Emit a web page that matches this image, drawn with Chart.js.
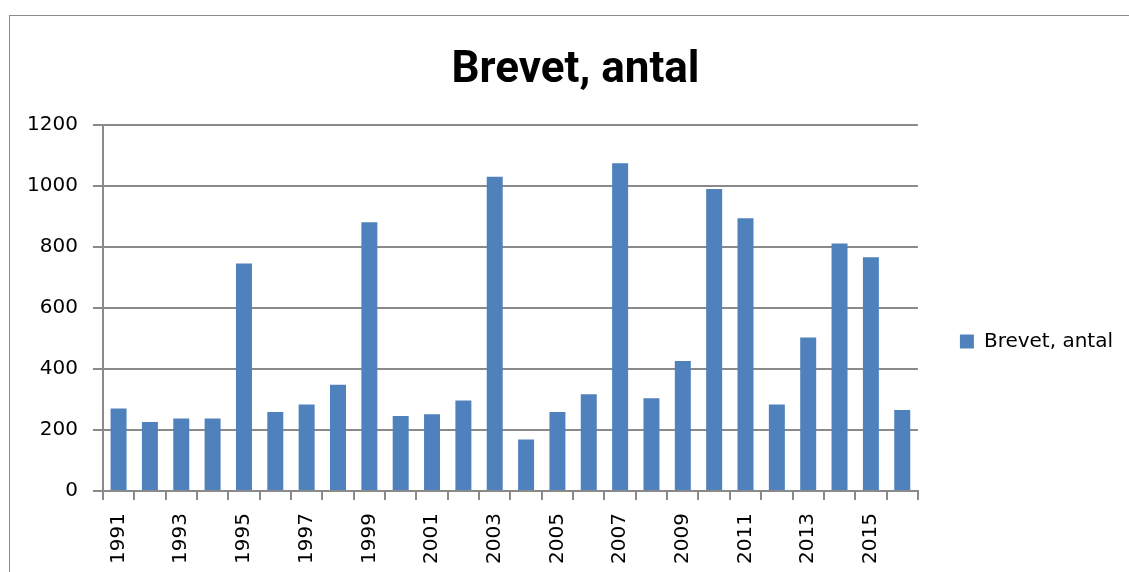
<!DOCTYPE html>
<html>
<head>
<meta charset="utf-8">
<script src="https://cdn.jsdelivr.net/npm/chart.js@4/dist/chart.umd.min.js"></script>
<style>
  html, body { margin: 0; padding: 0; background: #fff; }
  #wrap { position: relative; width: 1129px; height: 572px; }
  #frame { position: absolute; left: 9px; top: 15px; right: -10px; bottom: -10px; border: 1px solid #8c8c8c; }
  canvas { position: absolute; left: 0; top: 0; }
</style>
</head>
<body>
<div id="wrap">
  <div id="frame"></div>
  <canvas id="chart"></canvas>
</div>
<script>
// ===== Data =====
const years = ['1991', '1992', '1993', '1994', '1995', '1996', '1997', '1998', '1999', '2000',
  '2001', '2002', '2003', '2004', '2005', '2006', '2007', '2008', '2009', '2010',
  '2011', '2012', '2013', '2014', '2015', '2016'];
const brevet = [271, 226, 238, 238, 746, 259, 284, 348, 881, 246,
  252, 297, 1030, 169, 259, 317, 1074, 304, 426, 990,
  894, 284, 503, 811, 766, 266];
const yTicks = [0, 200, 400, 600, 800, 1000, 1200];

const gridGray = '#8a8a8a';
const tickFont = { family: 'DejaVu Sans', size: 20 };

// nudge legend and title to where Excel puts them
const boxNudge = {
  id: 'boxNudge',
  afterLayout(chart) {
    const lg = chart.legend;
    if (lg) {
      lg.left += 32; lg.right += 32;
      lg.top += 53; lg.bottom += 53;
    }
    const tb = chart.titleBlock;
    if (tb) { tb.left += 24; tb.right += 24; }
  }
};

new Chart(document.getElementById('chart'), {
  type: 'bar',
  data: {
    labels: years,
    datasets: [{
      label: 'Brevet, antal',
      data: brevet,
      backgroundColor: '#4F81BD',
      barPercentage: 0.51,
      categoryPercentage: 1.0,
    }]
  },
  plugins: [boxNudge],
  options: {
    responsive: true,
    maintainAspectRatio: false,
    animation: false,
    layout: { padding: { left: 12, right: 38, top: 0, bottom: -5 } },
    plugins: {
      title: {
        display: true,
        text: 'Brevet, antal',
        color: '#000',
        font: { family: 'Roboto', size: 44, weight: 'bold' },
        padding: { top: 45, bottom: 27 },
      },
      legend: {
        position: 'right',
        labels: {
          boxWidth: 14,
          boxHeight: 14,
          color: '#000',
          font: { family: 'DejaVu Sans', size: 20 },
          padding: 10,
        }
      },
      tooltip: { enabled: false }
    },
    scales: {
      x: {
        grid: { offset: true, drawOnChartArea: false, drawTicks: true, tickLength: 9, color: gridGray, lineWidth: 2 },
        border: { color: gridGray, width: 2 },
        ticks: {
          autoSkip: false,
          minRotation: 90,
          maxRotation: 90,
          padding: 13,
          color: '#000',
          font: tickFont,
          callback: (v, i) => (i % 2 === 0 ? years[i] : ''),
        }
      },
      y: {
        min: yTicks[0],
        max: yTicks[yTicks.length - 1],
        afterBuildTicks: axis => { axis.ticks = yTicks.map(v => ({ value: v })); },
        grid: { color: gridGray, lineWidth: 2, tickLength: 10 },
        border: { color: gridGray, width: 2 },
        ticks: {
          padding: 15,
          color: '#000',
          font: tickFont,
          callback: v => String(v),
        }
      }
    }
  }
});
</script>
</body>
</html>
